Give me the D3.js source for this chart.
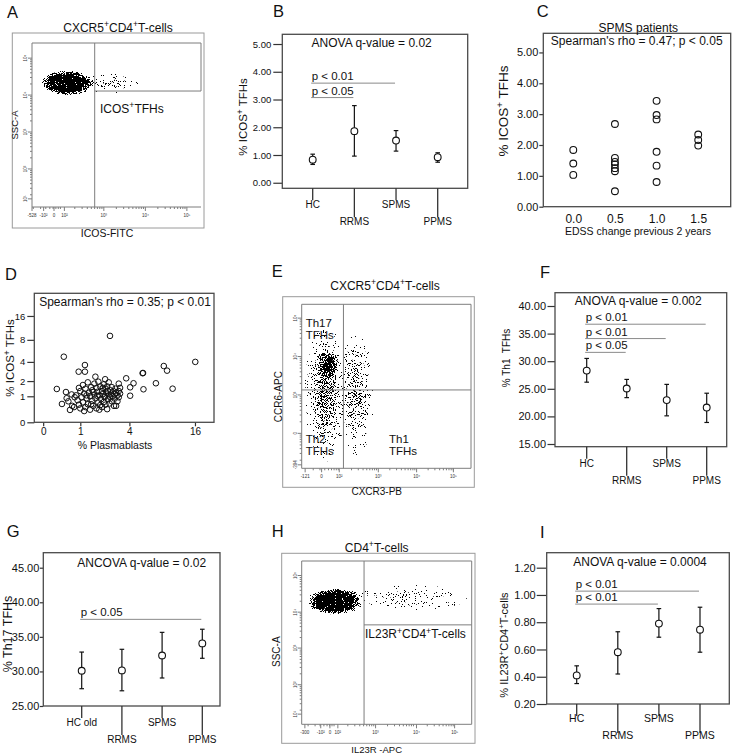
<!DOCTYPE html>
<html><head><meta charset="utf-8">
<script src="https://cdn.jsdelivr.net/npm/d3@7"></script>
<style>body{margin:0;background:#fff}svg{display:block}</style>
</head><body>
<svg id="fig" width="736" height="756"></svg>
<script>
// ===================== DATA =====================
const groups = ["HC", "RRMS", "SPMS", "PPMS"];
const groupsG = ["HC old", "RRMS", "SPMS", "PPMS"];

// B: % ICOS+ TFHs (mean, 95% CI)
const icosMean = [0.83, 1.86, 1.52, 0.92];
const icosLow  = [0.66, 0.96, 1.14, 0.74];
const icosHigh = [1.03, 2.78, 1.88, 1.08];
const ticksB = [0, 1, 2, 3, 4, 5];
const sigLabelB = ["p < 0.01", "p < 0.05"];
const sigToB = ["SPMS", "RRMS"];
const sigLevelB = [3.59, 3.07];

// C: SPMS patients
const edssChange = [0, 0, 0, 0.5, 0.5, 0.5, 0.5, 0.5, 0.5, 0.5, 1, 1, 1, 1, 1, 1, 1.5, 1.5, 1.5];
const icosSPMS   = [1.84, 1.40, 1.03, 2.68, 1.58, 1.45, 1.37, 1.25, 1.15, 0.50, 3.43, 2.97, 2.83, 1.78, 1.33, 0.80, 2.34, 2.16, 1.98];
const ticksCx = [0, 0.5, 1, 1.5];
const ticksCy = [0, 1, 2, 3, 4, 5];

// D: plasmablasts vs ICOS+ TFHs
const plasmablasts = [
  2.48, 0.47, 1.18, 0.94, 1.18, 1.65, 2.18, 0.29, 0.53, 0.42,
  0.65, 0.55, 0.60, 0.70, 0.72, 0.78, 0.80, 16.1, 8.5, 9.1,
  5.4, 5.45, 3.71, 4.4, 4.07, 7.2, 5.5, 10.2, 4.07, 3.1,
  3.2, 3.1, 3.2, 3.0, 3.1, 3.0, 2.9,
  0.85, 0.9, 0.95, 1.0, 1.0, 1.05, 1.1, 1.1, 1.15, 1.2,
  1.2, 1.25, 1.3, 1.3, 1.35, 1.4, 1.4, 1.45, 1.5, 1.5,
  1.55, 1.6, 1.6, 1.65, 1.7, 1.7, 1.75, 1.8, 1.8, 1.85,
  1.9, 1.9, 1.95, 2.0, 2.0, 2.05, 2.1, 2.1, 2.15, 2.2,
  2.2, 2.25, 2.3, 2.3, 2.35, 2.4, 2.4, 2.45, 2.5, 2.5,
  2.55, 2.6, 2.6, 2.65, 2.7, 2.75, 2.8, 2.8, 2.85, 2.9,
  1.15, 1.45, 1.75, 2.05, 2.35, 0.95, 1.25, 1.55, 1.85, 2.15];
const icosD = [
  9.0, 4.74, 3.6, 2.85, 2.85, 2.37, 2.15, 1.43, 1.24, 0.63,
  0.39, 0.9, 0.75, 1.1, 0.55, 0.5, 0.95, 4.0, 3.48, 2.96,
  2.7, 2.72, 2.23, 1.83, 1.54, 1.83, 1.41, 1.45, 1.03, 1.8,
  1.5, 1.3, 1.15, 1.05, 0.95, 0.75, 0.55,
  1.05, 0.8, 0.6, 1.3, 0.45, 0.95, 1.7, 0.7, 1.15, 0.5,
  1.45, 0.9, 1.9, 0.62, 1.2, 0.4, 1.0, 1.55, 0.78, 1.35,
  0.55, 1.1, 1.8, 0.9, 0.45, 1.5, 1.25, 0.7, 1.95, 1.05,
  0.58, 1.6, 0.85, 1.3, 0.5, 1.12, 1.75, 0.72, 0.95, 1.45,
  0.6, 1.2, 0.42, 1.6, 0.85, 1.05, 1.9, 0.65, 1.35, 0.95,
  1.15, 0.75, 1.55, 1.0, 1.3, 0.55, 1.1, 0.88, 1.45, 1.2,
  0.35, 0.62, 1.02, 1.5, 1.3, 1.5, 1.05, 1.25, 0.4, 1.0];
const ticksDx = [0, 1, 4, 16];
const ticksDy = [0, 1, 2, 4, 8, 16];

// F: % Th1 TFHs
const th1Mean = [28.3, 25.05, 22.95, 21.6];
const th1Low  = [26.2, 23.4, 20.1, 18.9];
const th1High = [30.5, 26.7, 25.8, 24.2];
const ticksF = [15, 20, 25, 30, 35, 40];
const sigLabelF = ["p < 0.01", "p < 0.01", "p < 0.05"];
const sigToF = ["PPMS", "SPMS", "RRMS"];
const sigLevelF = [36.7, 34.1, 31.6];

// G: % Th17 TFHs
const th17Mean = [30.1, 30.15, 32.3, 34.05];
const th17Low  = [27.5, 27.2, 29.05, 31.9];
const th17High = [32.8, 33.2, 35.65, 36.1];
const ticksG = [25, 30, 35, 40, 45];
const sigLabelG = ["p < 0.05"];
const sigToG = ["PPMS"];
const sigLevelG = [37.53];

// I: % IL23R+ CD4+ T-cells
const il23Mean = [0.41, 0.58, 0.79, 0.745];
const il23Low  = [0.35, 0.42, 0.69, 0.58];
const il23High = [0.48, 0.73, 0.90, 0.91];
const ticksI = [0.2, 0.4, 0.6, 0.8, 1.0, 1.2];
const sigLabelI = ["p < 0.01", "p < 0.01"];
const sigToI = ["PPMS", "SPMS"];
const sigLevelI = [1.028, 0.933];

// Flow cytometry: population summaries in log-decade units (centre, spread, density)
const popA_x = [2.12, 3.15], popA_y = [4.33, 4.32], popA_sx = [0.66, 0.72], popA_sy = [0.34, 0.28], popA_w = [1.0, 0.3];
const gateA = [2.78, 4.11];
const tickA_xPos = [1.27, 1.55, 1.8, 2.05, 3, 4, 5], tickA_xLab = ["-528", "-10²", "0", "10²", "10³", "10⁴", "10⁵"];
const tickA_yPos = [1.19, 2, 3, 4, 5], tickA_yLab = ["10¹", "10²", "10³", "10⁴", "10⁵"];

const popE_x = [1.69, 1.62, 2.42], popE_y = [3.8, 3.05, 3.0], popE_sx = [0.34, 0.55, 0.48], popE_sy = [0.45, 1.8, 1.6], popE_w = [0.9, 0.55, 0.45];
const gateE = [2.09, 3.13];
const tickE_xPos = [1.09, 1.52, 1.98, 3, 4, 4.96], tickE_xLab = ["-121", "0", "10²", "10³", "10⁴", "10⁵"];
const tickE_yPos = [1.18, 2, 3, 4, 5], tickE_yLab = ["-394", "0", "10³", "10⁴", "10⁵"];

const popH_x = [1.98, 3.9], popH_y = [4.3, 4.4], popH_sx = [0.7, 1.45], popH_sy = [0.37, 0.36], popH_w = [1.0, 0.25];
const gateH = [2.71, 3.65];
const tickH_xPos = [1.22, 1.62, 1.85, 2.05, 3, 4.03, 4.99], tickH_xLab = ["-300", "-10²", "0", "10²", "10³", "10⁴", "10⁵"];
const tickH_yPos = [1.19, 2, 3.01, 4, 5.01], tickH_yLab = ["10¹", "10²", "10³", "10⁴", "10⁵"];

// ===================== DRAWING =====================
const FONT = "'Liberation Sans', Arial, Helvetica, sans-serif";
const svg = d3.select("#fig").attr("font-family", FONT);
const defs = svg.append("defs");

function radial(id, stops) {
  const gr = defs.append("radialGradient").attr("id", id);
  stops.forEach(s => gr.append("stop").attr("offset", s[0]).attr("stop-color", "#000").attr("stop-opacity", s[1]));
}
radial("gSolid", [[0, 1], [0.6, 1], [0.82, 0.6], [1, 0]]);
radial("gSoft", [[0, 1], [0.35, 0.7], [0.7, 0.3], [1, 0]]);

const flt = defs.append("filter").attr("id", "speckle").attr("filterUnits", "userSpaceOnUse")
  .attr("x", 0).attr("y", 0).attr("width", 736).attr("height", 756)
  .attr("color-interpolation-filters", "sRGB");
flt.append("feTurbulence").attr("type", "fractalNoise").attr("baseFrequency", 1.1)
  .attr("numOctaves", 2).attr("seed", 11).attr("result", "noise");
flt.append("feColorMatrix").attr("in", "noise").attr("type", "matrix")
  .attr("values", "0 0 0 0 0  0 0 0 0 0  0 0 0 0 0  2.2 0 0 0 -0.6").attr("result", "na");
flt.append("feComposite").attr("in", "SourceGraphic").attr("in2", "na").attr("operator", "arithmetic")
  .attr("k1", 0).attr("k2", 1).attr("k3", -1).attr("k4", 0).attr("result", "diff");
flt.append("feComponentTransfer").attr("in", "diff")
  .append("feFuncA").attr("type", "linear").attr("slope", 60).attr("intercept", 0);

function rich(t, str, size) {
  const parts = str.split("{+}");
  let shift = 0;
  parts.forEach((p, i) => {
    if (i > 0) {
      t.append("tspan").attr("dy", -0.38 * size).attr("font-size", 0.72 * size).text("+");
      shift = 0.38 * size;
    }
    if (p) {
      const s = t.append("tspan").text(p);
      if (shift) { s.attr("dy", shift); shift = 0; }
    }
  });
  return t;
}
function label(g, str, x, y, size, anchor) {
  const t = g.append("text").attr("x", x).attr("y", y).attr("font-size", size)
    .attr("text-anchor", anchor || "start").attr("fill", "#111").style("white-space", "pre");
  return rich(t, str, size);
}
function vlabel(g, str, cx, cy, size) {
  const t = g.append("text").attr("transform", `translate(${cx + 0.35 * size},${cy}) rotate(-90)`)
    .attr("font-size", size).attr("text-anchor", "middle").attr("fill", "#111").style("white-space", "pre");
  return rich(t, str, size);
}
function styleAxis(ax, size) {
  ax.attr("font-family", FONT).attr("font-size", size);
  ax.selectAll("text").attr("fill", "#111");
  ax.selectAll("line").attr("stroke", "#333").attr("stroke-width", 1.2);
  ax.select(".domain").remove();
}
function box(g, b, color, w) {
  g.append("rect").attr("x", b[0]).attr("y", b[1]).attr("width", b[2] - b[0]).attr("height", b[3] - b[1])
    .attr("fill", "none").attr("stroke", color).attr("stroke-width", w);
}

// Panel letters
[["A", 7, 18.3], ["B", 273, 16.7], ["C", 536.7, 16.7], ["D", 5, 280], ["E", 271.7, 276.7],
 ["F", 540, 278.3], ["G", 6.7, 536.7], ["H", 271.7, 536.7], ["I", 540, 538.3]].forEach(d =>
  svg.append("text").attr("x", d[1]).attr("y", d[2]).attr("font-size", 16.5).attr("fill", "#111").text(d[0]));

// ---------- error-bar panels ----------
function errPanel(c) {
  const g = svg.append("g");
  const [L, T, R, B] = c.box;
  const x = d3.scalePoint().domain(c.cats).range(c.xr);
  const y = d3.scaleLinear().domain(c.yd).range([B, T]);
  const ax = g.append("g").attr("transform", `translate(${L},0)`)
    .call(d3.axisLeft(y).tickValues(c.yticks).tickFormat(d3.format(".2f")).tickSize(c.tl).tickPadding(c.tp));
  styleAxis(ax, c.tf);
  box(g, c.box, "#4a4a4a", 1.3);
  const rows = c.cats.map((k, i) => ({ k, i, m: c.mean[i], lo: c.low[i], hi: c.high[i] }));
  g.selectAll(".ct").data(rows).join("line").attr("class", "ct")
    .attr("x1", d => x(d.k)).attr("x2", d => x(d.k)).attr("y1", B)
    .attr("y2", d => B + (d.i % 2 ? 29 : 12)).attr("stroke", "#333").attr("stroke-width", 1.3);
  g.selectAll(".cl").data(rows).join("text").attr("class", "cl")
    .attr("x", d => x(d.k)).attr("y", d => B + (d.i % 2 ? c.ll : c.sl))
    .attr("text-anchor", "middle").attr("font-size", c.cf).attr("fill", "#111").text(d => d.k);
  const eb = g.selectAll(".eb").data(rows).join("g").attr("class", "eb");
  eb.append("line").attr("x1", d => x(d.k)).attr("x2", d => x(d.k))
    .attr("y1", d => y(d.lo)).attr("y2", d => y(d.hi)).attr("stroke", "#111").attr("stroke-width", 1.2);
  ["lo", "hi"].forEach(key => eb.append("line")
    .attr("x1", d => x(d.k) - 2.3).attr("x2", d => x(d.k) + 2.3)
    .attr("y1", d => y(d[key])).attr("y2", d => y(d[key])).attr("stroke", "#111").attr("stroke-width", 1.2));
  eb.append("circle").attr("cx", d => x(d.k)).attr("cy", d => y(d.m)).attr("r", 3.4)
    .attr("fill", "#fff").attr("stroke", "#111").attr("stroke-width", 1.1);
  const sig = c.sigLab.map((s, i) => ({ s, to: c.sigTo[i], lv: c.sigLv[i] }));
  const x0 = x(c.cats[0]);
  g.selectAll(".sl").data(sig).join("line").attr("class", "sl")
    .attr("x1", x0 - 1.5).attr("x2", d => x(d.to) - 1)
    .attr("y1", d => y(d.lv)).attr("y2", d => y(d.lv)).attr("stroke", "#8a8a8a").attr("stroke-width", 1);
  g.selectAll(".st").data(sig).join("text").attr("class", "st")
    .attr("x", x0 - 1).attr("y", d => y(d.lv) - 3).attr("font-size", 11.5).attr("fill", "#111").text(d => d.s);
  label(g, c.ann, c.annXY[0], c.annXY[1], 12, "middle");
  vlabel(g, c.ylab, c.ylabXY[0], c.ylabXY[1], c.ylf);
}

errPanel({ box: [282.3, 34.3, 467.7, 188.3], yd: [-0.2, 5.35], xr: [312.7, 437.7], cats: groups,
  mean: icosMean, low: icosLow, high: icosHigh, yticks: ticksB, tl: 9, tp: 2, tf: 9.5, cf: 10, sl: 20, ll: 36.7,
  sigLab: sigLabelB, sigTo: sigToB, sigLv: sigLevelB, ann: "ANOVA q-value = 0.02", annXY: [371.7, 46.7],
  ylab: "% ICOS{+} TFHs", ylabXY: [243, 117], ylf: 11.5 });

errPanel({ box: [555, 292.7, 726.7, 446.7], yd: [14.51, 42.41], xr: [586.7, 706.7], cats: groups,
  mean: th1Mean, low: th1Low, high: th1High, yticks: ticksF, tl: 7.5, tp: 1.5, tf: 11, cf: 10, sl: 20.6, ll: 37.3,
  sigLab: sigLabelF, sigTo: sigToF, sigLv: sigLevelF, ann: "ANOVA q-value = 0.002", annXY: [638.3, 305],
  ylab: "% Th1  TFHs", ylabXY: [506.7, 358], ylf: 10 });

errPanel({ box: [43.3, 552.7, 220, 706], yd: [25, 47.17], xr: [81.7, 202.3], cats: groupsG,
  mean: th17Mean, low: th17Low, high: th17High, yticks: ticksG, tl: 3.5, tp: 0.5, tf: 11, cf: 10, sl: 20, ll: 37.3,
  sigLab: sigLabelG, sigTo: sigToG, sigLv: sigLevelG, ann: "ANCOVA q-value = 0.02", annXY: [141.7, 566.7],
  ylab: "% Th17 TFHs", ylabXY: [7.5, 634], ylf: 12.5 });

errPanel({ box: [546.7, 552.7, 729.3, 704], yd: [0.2, 1.31], xr: [576.7, 700], cats: groups,
  mean: il23Mean, low: il23Low, high: il23High, yticks: ticksI, tl: 10, tp: 1, tf: 11, cf: 10.5, sl: 18.3, ll: 35.3,
  sigLab: sigLabelI, sigTo: sigToI, sigLv: sigLevelI, ann: "ANOVA q-value = 0.0004", annXY: [640, 566],
  ylab: "% IL23R{+}CD4{+}T-cells", ylabXY: [504, 645], ylf: 11 });

// ---------- C scatter ----------
(function () {
  const g = svg.append("g");
  const b = [543.3, 33.3, 730.7, 206.7];
  const x = d3.scaleLinear().domain([-0.36, 1.89]).range([b[0], b[2]]);
  const y = d3.scaleLinear().domain([0, 5.62]).range([b[3], b[1]]);
  const ay = g.append("g").attr("transform", `translate(${b[0]},0)`)
    .call(d3.axisLeft(y).tickValues(ticksCy).tickFormat(d3.format(".2f")).tickSize(4).tickPadding(1));
  styleAxis(ay, 11);
  const axx = g.append("g").attr("transform", `translate(0,${b[3]})`)
    .call(d3.axisBottom(x).tickValues(ticksCx).tickFormat(d3.format(".1f")).tickSize(0).tickPadding(8));
  styleAxis(axx, 12);
  box(g, b, "#4a4a4a", 1.3);
  g.selectAll("circle").data(edssChange.map((e, i) => [e, icosSPMS[i]])).join("circle")
    .attr("cx", d => x(d[0])).attr("cy", d => y(d[1])).attr("r", 3.4)
    .attr("fill", "none").attr("stroke", "#111").attr("stroke-width", 1.1);
  label(g, "SPMS patients", 638.3, 31.7, 12, "middle");
  label(g, "Spearman's rho = 0.47; p < 0.05", 636.7, 45, 12, "middle");
  label(g, "EDSS change previous 2 years", 638, 235, 10.5, "middle");
  vlabel(g, "% ICOS{+} TFHs", 503.3, 111, 13.5);
})();

// ---------- D scatter ----------
(function () {
  const g = svg.append("g");
  const b = [34.3, 293.3, 214, 422.3];
  const x = d3.scaleSymlog().constant(1).domain([-0.18, 23.25]).range([b[0], b[2]]);
  const y = d3.scaleSymlog().constant(1).domain([0, 30.1]).range([b[3], b[1]]);
  const ay = g.append("g").attr("transform", `translate(${b[0]},0)`)
    .call(d3.axisLeft(y).tickValues(ticksDy).tickFormat(d3.format("d")).tickSize(7).tickPadding(2));
  styleAxis(ay, 9.5);
  const axx = g.append("g").attr("transform", `translate(0,${b[3]})`)
    .call(d3.axisBottom(x).tickValues(ticksDx).tickFormat(d3.format("d")).tickSize(4).tickPadding(2));
  styleAxis(axx, 10);
  box(g, b, "#4a4a4a", 1.3);
  g.selectAll("circle").data(plasmablasts.map((p, i) => [p, icosD[i]])).join("circle")
    .attr("cx", d => x(d[0])).attr("cy", d => y(d[1])).attr("r", 2.8)
    .attr("fill", "none").attr("stroke", "#111").attr("stroke-width", 1);
  label(g, "Spearman's rho = 0.35; p < 0.01", 125, 305.7, 12, "middle");
  label(g, "% Plasmablasts", 115, 449, 10.5, "middle");
  vlabel(g, "% ICOS{+} TFHs", 10, 358, 11.5);
})();

// ---------- flow cytometry panels ----------
function flowPanel(c) {
  const g = svg.append("g");
  const [L, T, R, B] = c.inner;
  const x = d3.scaleLinear().domain(c.xd).range([L, R]);
  const y = d3.scaleLinear().domain(c.yd).range([B, T]);
  box(g, c.outer, "#9a9a9a", 1);
  defs.append("clipPath").attr("id", c.id).append("rect").attr("x", L).attr("y", T).attr("width", R - L).attr("height", B - T);
  const pops = c.px.map((v, i) => ({ mx: v, my: c.py[i], sx: c.sx[i], sy: c.sy[i], w: c.w[i] }));
  g.append("g").attr("clip-path", `url(#${c.id})`).append("g").attr("filter", "url(#speckle)")
    .selectAll("ellipse").data(pops).join("ellipse")
    .attr("cx", d => x(d.mx)).attr("cy", d => y(d.my))
    .attr("rx", d => x(d.mx + d.sx) - x(d.mx)).attr("ry", d => y(d.my) - y(d.my + d.sy))
    .attr("fill", d => d.w >= 0.95 ? "url(#gSolid)" : "url(#gSoft)").attr("fill-opacity", d => d.w);
  const gx = x(c.gate[0]), gy = y(c.gate[1]);
  const ln = (x1, y1, x2, y2) => g.append("line").attr("x1", x1).attr("y1", y1).attr("x2", x2).attr("y2", y2)
    .attr("stroke", "#7d7d7d").attr("stroke-width", 1);
  c.gates(ln, L, T, R, B, gx, gy);
  const minors = [];
  [1, 2, 3, 4].forEach(k => d3.range(2, 10).forEach(m => minors.push(k + Math.log10(m))));
  minors.filter(d => d > c.xd[0] && d < c.xd[1]).forEach(d => ln(x(d), B, x(d), B + 2));
  minors.filter(d => d > c.yd[0] && d < c.yd[1]).forEach(d => ln(L, y(d), L - 2, y(d)));
  c.xPos.forEach((d, i) => {
    ln(x(d), B, x(d), B + 4);
    g.append("text").attr("x", x(d)).attr("y", B + 10).attr("font-size", 4.5).attr("text-anchor", "middle")
      .attr("fill", "#333").text(c.xLab[i]);
  });
  c.yPos.forEach((d, i) => {
    ln(L, y(d), L - 4, y(d));
    g.append("text").attr("transform", `translate(${L - 5},${y(d)}) rotate(-90)`).attr("font-size", 4.5)
      .attr("text-anchor", "middle").attr("fill", "#333").text(c.yLab[i]);
  });
  label(g, c.title[0], c.title[1], c.title[2], 12, "middle");
  label(g, c.xl[0], c.xl[1], c.xl[2], c.xl[3], "middle");
  vlabel(g, c.yl[0], c.yl[1], c.yl[2], c.yl[3]);
  c.texts.forEach(t => label(g, t[0], t[1], t[2], t[3] || 12, "start"));
}

flowPanel({ id: "clipA", outer: [12.3, 33, 204, 228], inner: [32, 43, 201, 207], xd: [1.27, 5.34], yd: [0.97, 5.41],
  px: popA_x, py: popA_y, sx: popA_sx, sy: popA_sy, w: popA_w, gate: gateA,
  gates: (ln, L, T, R, B, gx, gy) => { ln(L, T, L, B); ln(L, B, R, B); ln(L, T, R, T); ln(gx, T, gx, B); ln(gx, gy, R, gy); ln(R, T, R, gy); },
  xPos: tickA_xPos, xLab: tickA_xLab, yPos: tickA_yPos, yLab: tickA_yLab,
  title: ["CXCR5{+}CD4{+}T-cells", 118, 31.7], xl: ["ICOS-FITC", 107, 237, 10.5], yl: ["SSC-A", 15, 125, 9.5],
  texts: [["ICOS{+}TFHs", 100, 113]] });

flowPanel({ id: "clipE", outer: [282.7, 296.7, 474.3, 487.3], inner: [301.7, 304.3, 471, 468.3], xd: [1.0, 5.42], yd: [1.09, 5.36],
  px: popE_x, py: popE_y, sx: popE_sx, sy: popE_sy, w: popE_w, gate: gateE,
  gates: (ln, L, T, R, B, gx, gy) => { ln(L, T, L, B); ln(L, B, R, B); ln(L, T, R, T); ln(R, T, R, B); ln(gx, T, gx, B); ln(L, gy, R, gy); },
  xPos: tickE_xPos, xLab: tickE_xLab, yPos: tickE_yPos, yLab: tickE_yLab,
  title: ["CXCR5{+}CD4{+}T-cells", 385, 290], xl: ["CXCR3-PB", 376.7, 495, 10], yl: ["CCR6-APC", 278.3, 396.7, 10],
  texts: [["Th17", 305.7, 326.5, 11.5], ["TFHs", 305.7, 339, 11.5], ["Th2", 305.7, 442.5, 11.5], ["TFHs", 305.7, 455, 11.5],
          ["Th1", 389, 442.5, 11.5], ["TFHs", 389, 455, 11.5]] });

flowPanel({ id: "clipH", outer: [281.7, 553.3, 475, 743.3], inner: [301.7, 561, 471.7, 724.3], xd: [1.14, 5.42], yd: [0.91, 5.41],
  px: popH_x, py: popH_y, sx: popH_sx, sy: popH_sy, w: popH_w, gate: gateH,
  gates: (ln, L, T, R, B, gx, gy) => { ln(L, T, L, B); ln(L, B, R, B); ln(L, T, R, T); ln(R, T, R, B); ln(gx, T, gx, B); ln(gx, gy, R, gy); },
  xPos: tickH_xPos, xLab: tickH_xLab, yPos: tickH_yPos, yLab: tickH_yLab,
  title: ["CD4{+}T-cells", 376.7, 551.7], xl: ["IL23R -APC", 376.7, 753, 9.5], yl: ["SSC-A", 276.7, 651.7, 10],
  texts: [["IL23R{+}CD4{+}T-cells", 365, 638.3]] });
</script>
</body></html>
